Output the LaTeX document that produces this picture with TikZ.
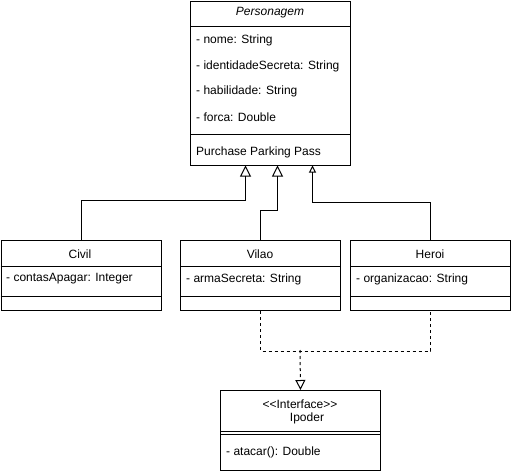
\documentclass[tikz,border=0pt]{standalone}
\usepackage{fontspec}
\setmainfont{Liberation Sans}
\usetikzlibrary{arrows.meta}
\begin{document}
\begin{tikzpicture}[x=1pt,y=-1pt,
  font=\fontsize{12}{14}\selectfont,
  box/.style={draw, line width=1pt, rectangle, anchor=north west, inner sep=0pt, minimum width=160pt},
  sep/.style={line width=1pt},
  txt/.style={anchor=west, inner sep=0pt},
  ctr/.style={anchor=center, inner sep=0pt},
  inh/.style={line width=1pt, -{Triangle[open, width=11pt, length=11pt, line width=1pt]}},
  inhsmall/.style={line width=1pt, -{Triangle[open, width=7pt, length=7pt, line width=1pt]}},
  real/.style={line width=1pt, dash pattern=on 3pt off 3pt},
  realtip/.style={real, -{Triangle[open, width=10pt, length=10pt, line width=1pt, sep=0pt]}}
]
\useasboundingbox (0,0) rectangle (511,471);

% Personagem
\node[box, minimum height=164pt] (pers) at (190,0.5) {};
\node[ctr, font=\fontsize{12}{14}\selectfont\itshape] (persname) at (270,13) {Personagem};
\draw[sep] (190,26) -- (350,26);
\node[txt] (p1) at (196,40) {- nome: String};
\node[txt] (p2) at (196,66) {- identidadeSecreta: String};
\node[txt] (p3) at (196,91) {- habilidade: String};
\node[txt] (p4) at (196,117) {- forca: Double};
\draw[sep] (190,134) -- (350,134);
\node[txt] (p5) at (196,152) {Purchase Parking Pass};

% Civil
\node[box, minimum height=70pt] (civil) at (0.5,240) {};
\node[ctr] (civilname) at (80,254) {Civil};
\draw[sep] (0.5,266) -- (160.5,266);
\node[txt] (c1) at (6,279) {- contasApagar: Integer};
\draw[sep] (0.5,296) -- (160.5,296);

% Vilao
\node[box, minimum height=70pt] (vilao) at (180,240) {};
\node[ctr] (vilaoname) at (260,254) {Vilao};
\draw[sep] (180,266) -- (340,266);
\node[txt] (v1) at (186,279) {- armaSecreta: String};
\draw[sep] (180,296) -- (340,296);

% Heroi
\node[box, minimum height=70pt] (heroi) at (350,240) {};
\node[ctr] (heroiname) at (430,254) {Heroi};
\draw[sep] (350,266) -- (510,266);
\node[txt] (h1) at (356,279) {- organizacao: String};
\draw[sep] (350,296) -- (510,296);

% Interface
\node[box, minimum height=80pt] (iface) at (220,390) {};
\node[ctr] (ifst) at (300,404) {<\kern0pt<Interface>\kern0pt>};
\node[ctr] (ifname) at (307,418) {Ipoder};
\draw[sep] (220,431) -- (380,431);
\draw[sep] (220,434) -- (380,434);
\node[txt] (i1) at (226,452) {- atacar(): Double};

% Inheritance
\draw[inh] (civil.north) -- ++(0,-40) -| ([xshift=-25pt]pers.south);
\draw[inh] (vilao.north) -- ++(0,-30) -| ([xshift=7pt]pers.south);
\draw[inhsmall] (heroi.north) -- ++(0,-38) -| ([xshift=42pt]pers.south);

% Realization
\coordinate (dj) at (300,350);
\draw[real] (vilao.south) -- ++(0,40) -| (heroi.south);
\draw[realtip] (dj) -- (iface.north);
\end{tikzpicture}
\end{document}
